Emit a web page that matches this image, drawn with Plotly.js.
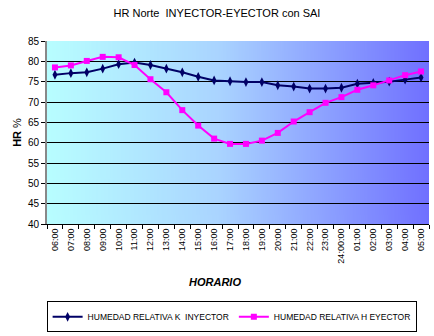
<!DOCTYPE html>
<html>
<head>
<meta charset="utf-8">
<script src="https://cdn.plot.ly/plotly-3.0.1.min.js"></script>
<style>html,body{margin:0;padding:0;background:#fff;}#chart{width:434px;height:336px;}</style>
</head>
<body>
<div id="chart"></div>
<script>
const horas = ["06:00","07:00","08:00","09:00","10:00","11:00","12:00","13:00","14:00","15:00","16:00","17:00","18:00","19:00","20:00","21:00","22:00","23:00","24:00:00","01:00","02:00","03:00","04:00","05:00"];
const inyector = [76.7,77.1,77.3,78.2,79.3,79.7,79.1,78.2,77.3,76.2,75.3,75.1,74.9,74.9,74.1,73.8,73.3,73.3,73.5,74.5,74.7,75.0,75.5,76.0];
const eyector = [78.5,79.0,80.1,81.1,81.0,79.1,75.6,72.4,68.0,64.2,61.0,59.7,59.7,60.5,62.4,65.2,67.5,69.8,71.2,73.0,74.1,75.3,76.6,77.5];
const yTicks = [40,45,50,55,60,65,70,75,80,85];

const cv = document.createElement('canvas');
cv.width = 400; cv.height = 10;
const ctx = cv.getContext('2d');
const g = ctx.createLinearGradient(0,0,400,0);
g.addColorStop(0,'#b8feff');
g.addColorStop(0.45,'#aad4ff');
g.addColorStop(1,'#7070ff');
ctx.fillStyle = g; ctx.fillRect(0,0,400,10);
const bg = cv.toDataURL();

const FONT = '"Liberation Sans", Arial, sans-serif';

const traces = [
  {x: horas, y: inyector, name: 'HUMEDAD RELATIVA K  INYECTOR', mode: 'lines+markers',
   line: {color: '#000066', width: 2}, marker: {symbol: 'diamond-tall', size: 7, color: '#000066'}},
  {x: horas, y: eyector, name: 'HUMEDAD RELATIVA H EYECTOR', mode: 'lines+markers',
   line: {color: '#ff00ff', width: 2}, marker: {symbol: 'square', size: 6, color: '#ff00ff'}}
];

const layout = {
  width: 434, height: 336,
  margin: {l: 47, r: 5, t: 41, b: 111},
  paper_bgcolor: '#ffffff', plot_bgcolor: 'rgba(0,0,0,0)',
  font: {family: FONT, size: 10, color: '#000'},
  title: {text: 'HR Norte  INYECTOR-EYECTOR con SAI', x: 0.5, xanchor: 'center', y: 0.962, yanchor: 'middle',
          font: {size: 11, color: '#000'}},
  images: [{source: bg, xref: 'paper', yref: 'paper', x: 0, y: 1, sizex: 1, sizey: 1,
            sizing: 'stretch', layer: 'below', xanchor: 'left', yanchor: 'top'}],
  xaxis: {type: 'category', tickangle: -90, tickson: 'boundaries', ticks: 'outside', ticklen: 4,
          tickcolor: '#000', showgrid: false, showline: true, linecolor: '#000', linewidth: 1,
          tickfont: {size: 9}, range: [-0.5, 23.5], automargin: false},
  yaxis: {range: [40, 85], tickvals: yTicks, ticks: 'outside', ticklen: 4, tickcolor: '#000',
          showgrid: true, gridcolor: '#000', gridwidth: 1, showline: true, linecolor: '#888', linewidth: 2,
          zeroline: false, tickfont: {size: 10}, automargin: false,
          title: {text: '<b>HR</b> %', font: {size: 11}, standoff: 4}},
  annotations: [{text: '<b><i>HORARIO</i></b>', xref: 'paper', yref: 'paper', x: 0.44, y: -0.315,
                 xanchor: 'center', yanchor: 'middle', showarrow: false, font: {size: 11}}],
  showlegend: true,
  legend: {orientation: 'h', xref: 'paper', yref: 'paper', x: -0.001, xanchor: 'left',
           y: -0.415, yanchor: 'top',
           bordercolor: '#000', borderwidth: 1, bgcolor: '#fff', font: {size: 8.5},
           itemwidth: 30, tracegroupgap: 0}
};

Plotly.newPlot('chart', traces, layout, {displayModeBar: false, staticPlot: true});
</script>
</body>
</html>
